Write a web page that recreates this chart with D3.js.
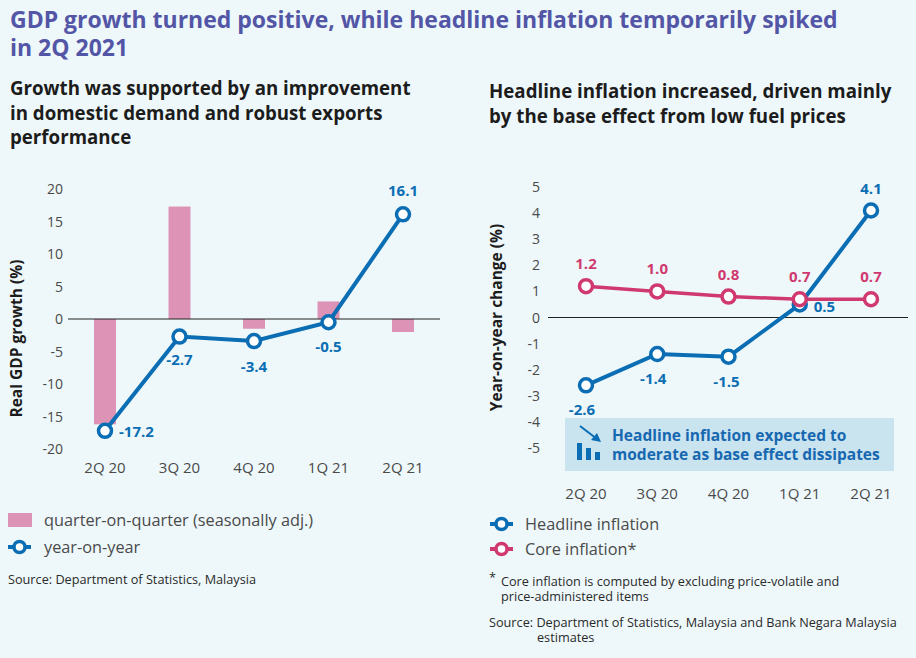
<!DOCTYPE html>
<html>
<head>
<meta charset="utf-8">
<script src="https://cdn.jsdelivr.net/npm/d3@7"></script>
<style>
  html, body { margin: 0; padding: 0; background: #eef8fa; }
  svg { display: block; font-family: "Open Sans", "Noto Sans", sans-serif; }
</style>
</head>
<body>
<div id="chart"></div>
<script>
// data
const quarters = ["2Q 20", "3Q 20", "4Q 20", "1Q 21", "2Q 21"];
const gdpQoq = [-16.2, 17.3, -1.5, 2.7, -2.0];
const gdpYoy = [-17.2, -2.7, -3.4, -0.5, 16.1];
const gdpTicks = [20, 15, 10, 5, 0, -5, -10, -15, -20];
const headline = [-2.6, -1.4, -1.5, 0.5, 4.1];
const core = [1.2, 1.0, 0.8, 0.7, 0.7];
const cpiTicks = [5, 4, 3, 2, 1, 0, -1, -2, -3, -4, -5];

const W = 916, H = 658;
const BLUE = "#0b6db3", PINK = "#dd93b6", MAGENTA = "#d0396f", GREY = "#4a4a4a";

const svg = d3.select("#chart").append("svg")
  .attr("width", W).attr("height", H);

svg.append("rect").attr("width", W).attr("height", H).attr("fill", "#eef8fa");

// titles
const title = svg.append("text")
  .attr("x", 10).attr("fill", "#5356a6")
  .attr("font-size", 23).attr("font-weight", "bold");
title.append("tspan").attr("x", 10).attr("y", 28)
  .text("GDP growth turned positive, while headline inflation temporarily spiked");
title.append("tspan").attr("x", 10).attr("y", 56).text("in 2Q 2021");

function multiline(x, y0, lh, lines, opts) {
  const t = svg.append("text").attr("fill", opts.fill)
    .attr("font-size", opts.size).attr("font-weight", opts.weight || "normal");
  lines.forEach((l, i) => t.append("tspan").attr("x", x).attr("y", y0 + i * lh).text(l));
  return t;
}

multiline(10, 95, 24.5, ["Growth was supported by an improvement",
  "in domestic demand and robust exports", "performance"],
  {fill: "#1c1c1c", size: 18.7, weight: "bold"});
multiline(489, 98, 24.5, ["Headline inflation increased, driven mainly",
  "by the base effect from low fuel prices"],
  {fill: "#1c1c1c", size: 18.7, weight: "bold"});

// left panel: GDP
const xL = d3.scalePoint().domain(quarters).range([105, 403]);
const yL = d3.scaleLinear().domain([-20, 20]).range([449, 189]);

const left = svg.append("g");
left.selectAll("text.tick").data(gdpTicks).enter().append("text")
  .attr("class", "tick")
  .attr("x", 63).attr("y", d => yL(d) + 5)
  .attr("text-anchor", "end").attr("font-size", 14).attr("fill", GREY)
  .text(d => d);

left.append("text")
  .attr("transform", "translate(22," + yL(-3) + ") rotate(-90)")
  .attr("text-anchor", "middle").attr("font-size", 15.5).attr("font-weight", "bold")
  .attr("fill", "#1c1c1c").text("Real GDP growth (%)");

left.selectAll("rect.bar").data(gdpQoq).enter().append("rect")
  .attr("class", "bar")
  .attr("x", (d, i) => xL(quarters[i]) - 11)
  .attr("width", 22)
  .attr("y", d => yL(Math.max(0, d)))
  .attr("height", d => Math.abs(yL(d) - yL(0)))
  .attr("fill", PINK);

left.append("line")
  .attr("x1", 68).attr("x2", 440).attr("y1", yL(0)).attr("y2", yL(0))
  .attr("stroke", "#222").attr("stroke-width", 1);

left.selectAll("text.xlab").data(quarters).enter().append("text")
  .attr("class", "xlab")
  .attr("x", d => xL(d)).attr("y", 473)
  .attr("text-anchor", "middle").attr("font-size", 15).attr("fill", GREY)
  .text(d => d);

const lineL = d3.line().x((d, i) => xL(quarters[i])).y(d => yL(d));
left.append("path").datum(gdpYoy).attr("d", lineL)
  .attr("fill", "none").attr("stroke", BLUE).attr("stroke-width", 4);
left.selectAll("circle.pt").data(gdpYoy).enter().append("circle")
  .attr("class", "pt")
  .attr("cx", (d, i) => xL(quarters[i])).attr("cy", d => yL(d))
  .attr("r", 6.5).attr("fill", "#fff").attr("stroke", BLUE).attr("stroke-width", 3.5);

// label offsets per point [dx, dy, anchor]
const gdpLabelPos = [[14, 6, "start"], [0, 28, "middle"], [0, 31, "middle"],
  [0, 30, "middle"], [0, -18, "middle"]];
left.selectAll("text.val").data(gdpYoy).enter().append("text")
  .attr("class", "val")
  .attr("x", (d, i) => xL(quarters[i]) + gdpLabelPos[i][0])
  .attr("y", (d, i) => yL(d) + gdpLabelPos[i][1])
  .attr("text-anchor", (d, i) => gdpLabelPos[i][2])
  .attr("font-size", 15).attr("font-weight", "bold").attr("fill", BLUE)
  .text(d => d.toFixed(1));

// right panel: inflation
const xR = d3.scalePoint().domain(quarters).range([586, 871]);
const yR = d3.scaleLinear().domain([-5, 5]).range([448, 187]);

const right = svg.append("g");
right.selectAll("text.tick").data(cpiTicks).enter().append("text")
  .attr("class", "tick")
  .attr("x", 540).attr("y", d => yR(d) + 5)
  .attr("text-anchor", "end").attr("font-size", 14).attr("fill", GREY)
  .text(d => d);

right.append("text")
  .attr("transform", "translate(502," + yR(0) + ") rotate(-90)")
  .attr("text-anchor", "middle").attr("font-size", 15.5).attr("font-weight", "bold")
  .attr("fill", "#1c1c1c").text("Year-on-year change (%)");

right.append("line")
  .attr("x1", 548).attr("x2", 908).attr("y1", yR(0)).attr("y2", yR(0))
  .attr("stroke", "#222").attr("stroke-width", 1);

// annotation box
right.append("rect")
  .attr("x", 565).attr("y", 418).attr("width", 329).attr("height", 53)
  .attr("fill", "#c9e3ef");
const icon = right.append("g").attr("fill", BLUE);
[[577, 17], [586, 12], [595, 8]].forEach(b => {
  icon.append("rect").attr("x", b[0]).attr("y", 460 - b[1]).attr("width", 5).attr("height", b[1]);
});
icon.append("line").attr("x1", 580).attr("y1", 426).attr("x2", 597).attr("y2", 439)
  .attr("stroke", BLUE).attr("stroke-width", 2);
icon.append("path").attr("d", "M601,442 L591,440 L597,433 Z");
multiline(612, 441, 19, ["Headline inflation expected to",
  "moderate as base effect dissipates"],
  {fill: "#1768b0", size: 15.5, weight: "bold"});

right.selectAll("text.xlab").data(quarters).enter().append("text")
  .attr("class", "xlab")
  .attr("x", d => xR(d)).attr("y", 499)
  .attr("text-anchor", "middle").attr("font-size", 15).attr("fill", GREY)
  .text(d => d);

const lineR = d3.line().x((d, i) => xR(quarters[i])).y(d => yR(d));
function series(g, values, color, width) {
  g.append("path").datum(values).attr("d", lineR)
    .attr("fill", "none").attr("stroke", color).attr("stroke-width", width);
  g.selectAll("circle").data(values).enter().append("circle")
    .attr("cx", (d, i) => xR(quarters[i])).attr("cy", d => yR(d))
    .attr("r", 6.5).attr("fill", "#fff").attr("stroke", color).attr("stroke-width", 3.5);
}
const gHead = right.append("g");
series(gHead, headline, BLUE, 4);
const gCore = right.append("g");
series(gCore, core, MAGENTA, 3.5);

const headLabelPos = [[-4, 30, "middle"], [-4, 30, "middle"], [-2, 30, "middle"],
  [14, 8, "start"], [0, -16, "middle"]];
right.selectAll("text.hval").data(headline).enter().append("text")
  .attr("class", "hval")
  .attr("x", (d, i) => xR(quarters[i]) + headLabelPos[i][0])
  .attr("y", (d, i) => yR(d) + headLabelPos[i][1])
  .attr("text-anchor", (d, i) => headLabelPos[i][2])
  .attr("font-size", 15).attr("font-weight", "bold").attr("fill", BLUE)
  .text(d => d.toFixed(1));
right.selectAll("text.cval").data(core).enter().append("text")
  .attr("class", "cval")
  .attr("x", (d, i) => xR(quarters[i]))
  .attr("y", d => yR(d) - 17)
  .attr("text-anchor", "middle")
  .attr("font-size", 15).attr("font-weight", "bold").attr("fill", MAGENTA)
  .text(d => d.toFixed(1));

// legends
function lineMarker(x, y, color) {
  svg.append("line").attr("x1", x).attr("x2", x + 23).attr("y1", y).attr("y2", y)
    .attr("stroke", color).attr("stroke-width", 4);
  svg.append("circle").attr("cx", x + 11.5).attr("cy", y).attr("r", 5.5)
    .attr("fill", "#fff").attr("stroke", color).attr("stroke-width", 3.5);
}
function legendText(x, y, s) {
  svg.append("text").attr("x", x).attr("y", y).attr("font-size", 16.3)
    .attr("fill", GREY).text(s);
}
svg.append("rect").attr("x", 8).attr("y", 513).attr("width", 24).attr("height", 14).attr("fill", PINK);
legendText(44, 526, "quarter-on-quarter (seasonally adj.)");
lineMarker(8, 547, BLUE);
legendText(44, 553, "year-on-year");

lineMarker(490, 524, BLUE);
legendText(525, 530, "Headline inflation");
lineMarker(490, 549, MAGENTA);
legendText(525, 555, "Core inflation*");

function small(x, y, s) {
  svg.append("text").attr("x", x).attr("y", y).attr("font-size", 12.7)
    .attr("fill", "#2a2a2a").text(s);
}
small(8, 584, "Source: Department of Statistics, Malaysia");
small(489, 582, "*");
small(501, 586, "Core inflation is computed by excluding price-volatile and");
small(501, 601, "price-administered items");
small(489, 627, "Source: Department of Statistics, Malaysia and Bank Negara Malaysia");
small(537, 642, "estimates");
</script>
</body>
</html>
